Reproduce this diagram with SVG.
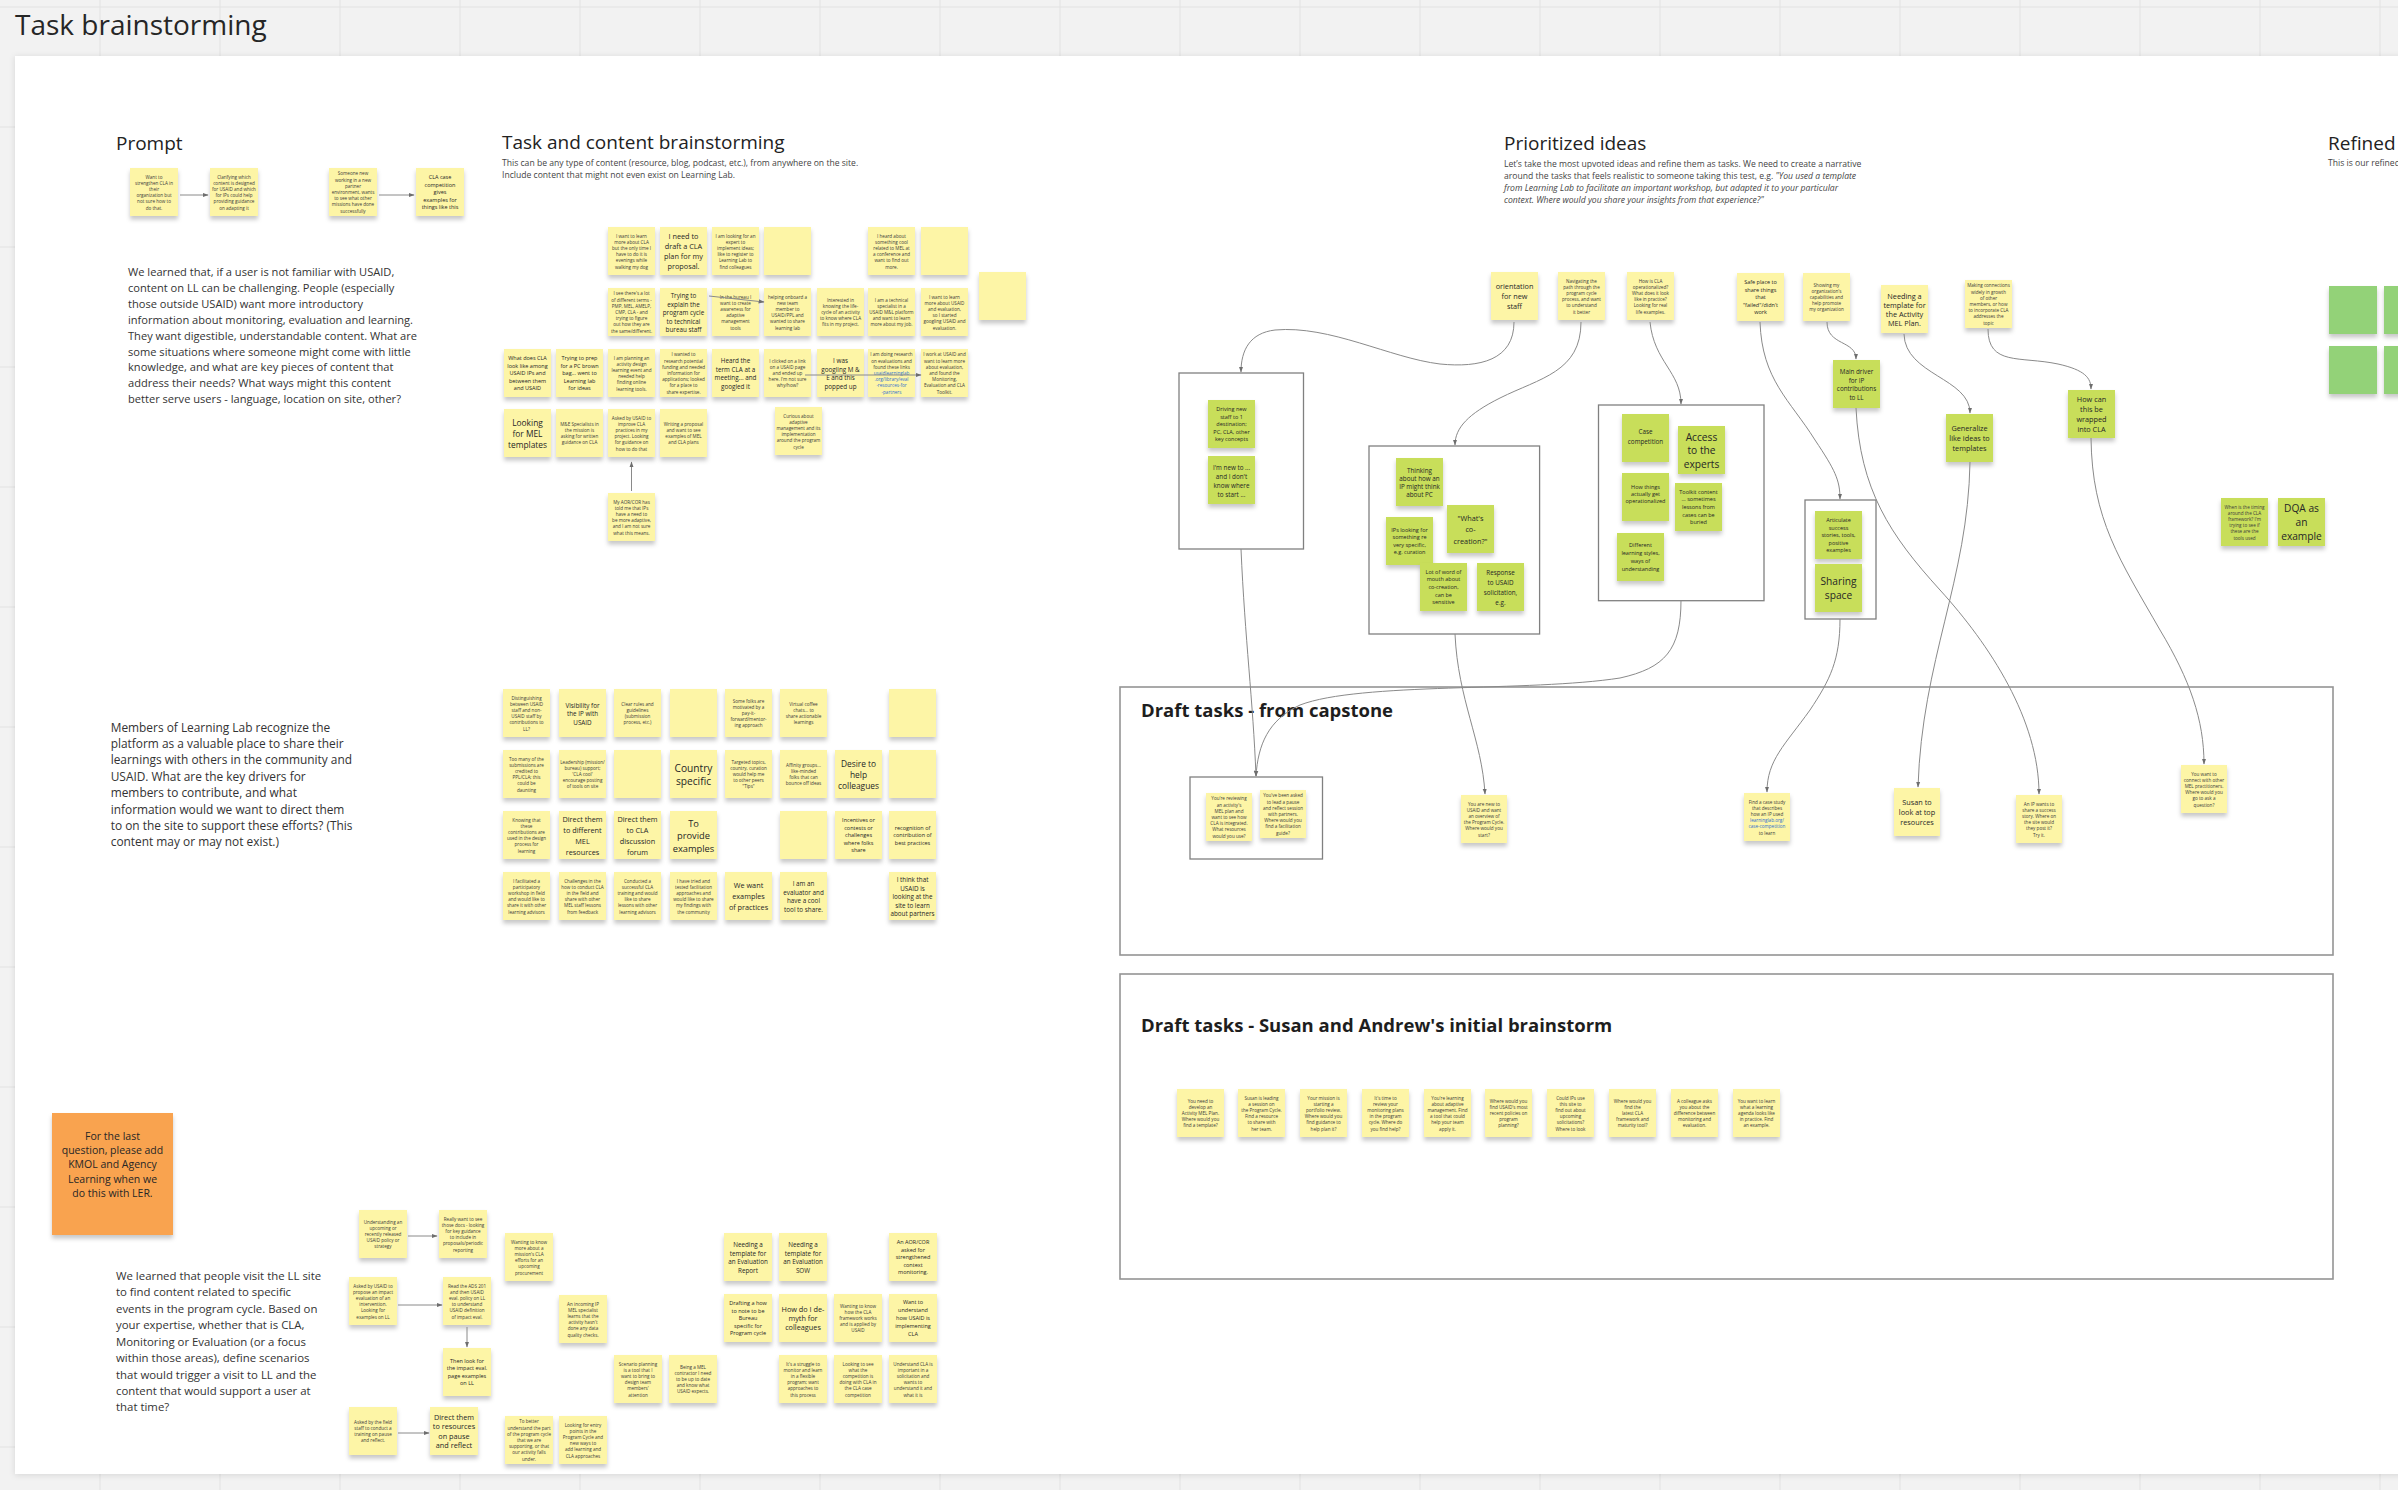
<svg xmlns="http://www.w3.org/2000/svg" width="2398" height="1490" viewBox="0 0 2398 1490">
<defs>
<filter id="sh" x="-20%" y="-20%" width="140%" height="160%"><feDropShadow dx="0" dy="3.5" stdDeviation="2.2" flood-color="#000" flood-opacity="0.22"/></filter>
<filter id="fsh" x="-5%" y="-5%" width="110%" height="110%"><feDropShadow dx="0" dy="1" stdDeviation="3" flood-color="#000" flood-opacity="0.12"/></filter>
<marker id="ah" viewBox="0 0 10 10" refX="9" refY="5" markerWidth="6" markerHeight="6" markerUnits="userSpaceOnUse" orient="auto"><path d="M0,1.5L10,5L0,8.5z" fill="#6e6e6e"/></marker>
</defs>
<style>
text{font-family:"Open Sans","Noto Sans","DejaVu Sans",sans-serif;fill:#262626}
.n text,.n tspan{text-anchor:middle;dominant-baseline:central}
.y{fill:#fdf5a6;filter:url(#sh)}
.g{fill:#c8de5a;filter:url(#sh)}
.gr{fill:#93d278;filter:url(#sh)}
.or{fill:#f9a350;filter:url(#sh)}
.f4{font-size:4.6px;fill:#3a3a3a}
.f5{font-size:5.5px}
.f6{font-size:6.3px}
.f7{font-size:7.3px}
.f8{font-size:8.4px}
.f9{font-size:9.3px}
.f10{font-size:10.2px}
.lk{fill:#2f6fd0}
.para{fill:#333}
.h{font-size:19px;fill:#222}
.sub{font-size:8.6px;fill:#444}
.box{fill:#fff;stroke:#808080;stroke-width:1.3}
.frm{fill:#fff;stroke:#949494;stroke-width:1.6}
.ft{font-size:18.5px;font-weight:bold;fill:#1e1e1e}
#connectors path{fill:none;stroke:#8a8a8a;stroke-width:1}
</style>
<rect x="0" y="0" width="2398" height="1490" fill="#f2f2f2"/>
<path d="M100 0V1490M220 0V1490M340 0V1490M460 0V1490M580 0V1490M700 0V1490M820 0V1490M940 0V1490M1060 0V1490M1180 0V1490M1300 0V1490M1420 0V1490M1540 0V1490M1660 0V1490M1780 0V1490M1900 0V1490M2020 0V1490M2140 0V1490M2260 0V1490M2380 0V1490M0 7H2398M0 127H2398M0 247H2398M0 367H2398M0 487H2398M0 607H2398M0 727H2398M0 847H2398M0 967H2398M0 1087H2398M0 1207H2398M0 1327H2398M0 1447H2398" stroke="#e2e2e2" stroke-width="1" fill="none"/>
<text x="15" y="35" font-size="28" fill="#555">Task brainstorming</text>
<rect x="15" y="56" width="2400" height="1418" fill="#fff" filter="url(#fsh)"/>

<!-- headings and paragraphs -->
<text class="h" x="116" y="150">Prompt</text>
<text class="para" font-size="11.1">
<tspan x="128" y="276.3">We learned that, if a user is not familiar with USAID,</tspan>
<tspan x="128" y="292.2">content on LL can be challenging. People (especially</tspan>
<tspan x="128" y="308">those outside USAID) want more introductory</tspan>
<tspan x="128" y="323.9">information about monitoring, evaluation and learning.</tspan>
<tspan x="128" y="339.7">They want digestible, understandable content. What are</tspan>
<tspan x="128" y="355.6">some situations where someone might come with little</tspan>
<tspan x="128" y="371.4">knowledge, and what are key pieces of content that</tspan>
<tspan x="128" y="387.3">address their needs? What ways might this content</tspan>
<tspan x="128" y="403.1">better serve users - language, location on site, other?</tspan>
</text>
<text class="para" font-size="11.9">
<tspan x="110.7" y="731.5">Members of Learning Lab recognize the</tspan>
<tspan x="110.7" y="747.9">platform as a valuable place to share their</tspan>
<tspan x="110.7" y="764.3">learnings with others in the community and</tspan>
<tspan x="110.7" y="780.7">USAID. What are the key drivers for</tspan>
<tspan x="110.7" y="797.1">members to contribute, and what</tspan>
<tspan x="110.7" y="813.5">information would we want to direct them</tspan>
<tspan x="110.7" y="829.9">to on the site to support these efforts? (This</tspan>
<tspan x="110.7" y="846.3">content may or may not exist.)</tspan>
</text>
<text class="para" font-size="11.4">
<tspan x="116" y="1279.8">We learned that people visit the LL site</tspan>
<tspan x="116" y="1296.3">to find content related to specific</tspan>
<tspan x="116" y="1312.7">events in the program cycle. Based on</tspan>
<tspan x="116" y="1329.2">your expertise, whether that is CLA,</tspan>
<tspan x="116" y="1345.6">Monitoring or Evaluation (or a focus</tspan>
<tspan x="116" y="1362">within those areas), define scenarios</tspan>
<tspan x="116" y="1378.5">that would trigger a visit to LL and the</tspan>
<tspan x="116" y="1395">content that would support a user at</tspan>
<tspan x="116" y="1411.4">that time?</tspan>
</text>
<text class="h" x="502" y="149">Task and content brainstorming</text>
<text class="sub" x="502" y="166">This can be any type of content (resource, blog, podcast, etc.), from anywhere on the site.</text>
<text class="sub" x="502" y="178">Include content that might not even exist on Learning Lab.</text>
<text class="h" x="1504" y="150">Prioritized ideas</text>
<text class="sub" x="1504" y="166.5">Let’s take the most upvoted ideas and refine them as tasks. We need to create a narrative</text>
<text class="sub" x="1504" y="178.7">around the tasks that feels realistic to someone taking this test, e.g. <tspan font-style="italic">"You used a template</tspan></text>
<text class="sub" x="1504" y="190.9" font-style="italic">from Learning Lab to facilitate an important workshop, but adapted it to your particular</text>
<text class="sub" x="1504" y="203.1" font-style="italic">context. Where would you share your insights from that experience?"</text>
<text class="h" x="2328" y="150">Refined</text>
<text class="sub" x="2328" y="166">This is our refined</text>

<!-- frames / boxes -->
<g id="frame-capstone"><rect class="frm" x="1120" y="687" width="1213" height="268"/><text class="ft" x="1141" y="716.5">Draft tasks - from capstone</text></g>
<g id="frame-susan"><rect class="frm" x="1120" y="974" width="1213" height="305"/><text class="ft" x="1141" y="1031.5">Draft tasks - Susan and Andrew's initial brainstorm</text></g>
<g id="box-1"><rect class="box" x="1179" y="373" width="124.5" height="176"/></g>
<g id="box-2"><rect class="box" x="1369" y="446" width="170.6" height="188"/></g>
<g id="box-3"><rect class="box" x="1598.5" y="405" width="165.5" height="195.7"/></g>
<g id="box-4"><rect class="box" x="1805" y="500" width="71" height="119"/></g>
<g id="box-5"><rect class="box" x="1190" y="777" width="132.5" height="82"/></g>

<!-- prompt notes -->
<g id="note-pr1" class="n"><rect class="y" x="130" y="168" width="48" height="48"/><text class="f4" x="154" y="192"><tspan x="154" dy="-15.5">Want to</tspan><tspan x="154" dy="6.2">strengthen CLA in</tspan><tspan x="154" dy="6.2">their</tspan><tspan x="154" dy="6.2">organization but</tspan><tspan x="154" dy="6.2">not sure how to</tspan><tspan x="154" dy="6.2">do that.</tspan></text></g>
<g id="note-pr2" class="n"><rect class="y" x="210" y="168" width="48" height="48"/><text class="f4" x="234" y="192"><tspan x="234" dy="-15.5">Clarifying which</tspan><tspan x="234" dy="6.2">content is designed</tspan><tspan x="234" dy="6.2">for USAID and which</tspan><tspan x="234" dy="6.2">for IPs could help</tspan><tspan x="234" dy="6.2">providing guidance</tspan><tspan x="234" dy="6.2">on adapting it</tspan></text></g>
<g id="note-pr3" class="n"><rect class="y" x="329" y="168" width="48" height="48"/><text class="f4" x="353" y="192"><tspan x="353" dy="-18.6">Someone new</tspan><tspan x="353" dy="6.2">working in a new</tspan><tspan x="353" dy="6.2">partner</tspan><tspan x="353" dy="6.2">environment, wants</tspan><tspan x="353" dy="6.2">to see what other</tspan><tspan x="353" dy="6.2">missions have done</tspan><tspan x="353" dy="6.2">successfully</tspan></text></g>
<g id="note-pr4" class="n"><rect class="y" x="416" y="168" width="48" height="48"/><text class="f5" x="440" y="192"><tspan x="440" dy="-15">CLA case</tspan><tspan x="440" dy="7.5">competition</tspan><tspan x="440" dy="7.5">gives</tspan><tspan x="440" dy="7.5">examples for</tspan><tspan x="440" dy="7.5">things like this</tspan></text></g>

<!-- task and content brainstorming notes -->
<g id="note-t1" class="n"><rect class="y" x="608" y="227" width="47" height="48"/><text class="f4" x="631.5" y="251"><tspan x="631.5" dy="-15.5">I want to learn</tspan><tspan x="631.5" dy="6.2">more about CLA</tspan><tspan x="631.5" dy="6.2">but the only time I</tspan><tspan x="631.5" dy="6.2">have to do it is</tspan><tspan x="631.5" dy="6.2">evenings while</tspan><tspan x="631.5" dy="6.2">walking my dog</tspan></text></g>
<g id="note-t2" class="n"><rect class="y" x="660" y="227" width="47" height="48"/><text class="f7" x="683.5" y="251"><tspan x="683.5" dy="-14.7">I need to</tspan><tspan x="683.5" dy="9.8">draft a CLA</tspan><tspan x="683.5" dy="9.8">plan for my</tspan><tspan x="683.5" dy="9.8">proposal.</tspan></text></g>
<g id="note-t3" class="n"><rect class="y" x="712" y="227" width="47" height="48"/><text class="f4" x="735.5" y="251"><tspan x="735.5" dy="-15.5">I am looking for an</tspan><tspan x="735.5" dy="6.2">expert to</tspan><tspan x="735.5" dy="6.2">implement ideas;</tspan><tspan x="735.5" dy="6.2">like to register to</tspan><tspan x="735.5" dy="6.2">Learning Lab to</tspan><tspan x="735.5" dy="6.2">find colleagues</tspan></text></g>
<g id="note-t4" class="n"><rect class="y" x="764" y="227" width="47" height="48"/></g>
<g id="note-t5" class="n"><rect class="y" x="868" y="227" width="47" height="48"/><text class="f4" x="891.5" y="251"><tspan x="891.5" dy="-15.5">I heard about</tspan><tspan x="891.5" dy="6.2">something cool</tspan><tspan x="891.5" dy="6.2">related to MEL at</tspan><tspan x="891.5" dy="6.2">a conference and</tspan><tspan x="891.5" dy="6.2">want to find out</tspan><tspan x="891.5" dy="6.2">more.</tspan></text></g>
<g id="note-t6" class="n"><rect class="y" x="921" y="227" width="47" height="48"/></g>
<g id="note-t7" class="n"><rect class="y" x="979" y="272" width="47" height="48"/></g>
<g id="note-t8" class="n"><rect class="y" x="608" y="288" width="47" height="48"/><text class="f4" x="631.5" y="312"><tspan x="631.5" dy="-18.6">I see there's a lot</tspan><tspan x="631.5" dy="6.2">of different terms -</tspan><tspan x="631.5" dy="6.2">PMP, MEL, AMELP,</tspan><tspan x="631.5" dy="6.2">CMP, CLA - and</tspan><tspan x="631.5" dy="6.2">trying to figure</tspan><tspan x="631.5" dy="6.2">out how they are</tspan><tspan x="631.5" dy="6.2">the same/different.</tspan></text></g>
<g id="note-t9" class="n"><rect class="y" x="660" y="288" width="47" height="48"/><text class="f6" x="683.5" y="312"><tspan x="683.5" dy="-17">Trying to</tspan><tspan x="683.5" dy="8.5">explain the</tspan><tspan x="683.5" dy="8.5">program cycle</tspan><tspan x="683.5" dy="8.5">to technical</tspan><tspan x="683.5" dy="8.5">bureau staff</tspan></text></g>
<g id="note-t10" class="n"><rect class="y" x="712" y="288" width="47" height="48"/><text class="f4" x="735.5" y="312"><tspan x="735.5" dy="-15.5">In the bureau I</tspan><tspan x="735.5" dy="6.2">want to create</tspan><tspan x="735.5" dy="6.2">awareness for</tspan><tspan x="735.5" dy="6.2">adaptive</tspan><tspan x="735.5" dy="6.2">management</tspan><tspan x="735.5" dy="6.2">tools</tspan></text></g>
<g id="note-t11" class="n"><rect class="y" x="764" y="288" width="47" height="48"/><text class="f4" x="787.5" y="312"><tspan x="787.5" dy="-15.5">helping onboard a</tspan><tspan x="787.5" dy="6.2">new team</tspan><tspan x="787.5" dy="6.2">member to</tspan><tspan x="787.5" dy="6.2">USAID/PPL and</tspan><tspan x="787.5" dy="6.2">wanted to share</tspan><tspan x="787.5" dy="6.2">learning lab</tspan></text></g>
<g id="note-t12" class="n"><rect class="y" x="817" y="288" width="47" height="48"/><text class="f4" x="840.5" y="312"><tspan x="840.5" dy="-12.4">Interested in</tspan><tspan x="840.5" dy="6.2">knowing the life-</tspan><tspan x="840.5" dy="6.2">cycle of an activity</tspan><tspan x="840.5" dy="6.2">to know where CLA</tspan><tspan x="840.5" dy="6.2">fits in my project.</tspan></text></g>
<g id="note-t13" class="n"><rect class="y" x="868" y="288" width="47" height="48"/><text class="f4" x="891.5" y="312"><tspan x="891.5" dy="-12.4">I am a technical</tspan><tspan x="891.5" dy="6.2">specialist in a</tspan><tspan x="891.5" dy="6.2">USAID M&amp;L platform</tspan><tspan x="891.5" dy="6.2">and want to learn</tspan><tspan x="891.5" dy="6.2">more about my job.</tspan></text></g>
<g id="note-t14" class="n"><rect class="y" x="921" y="288" width="47" height="48"/><text class="f4" x="944.5" y="312"><tspan x="944.5" dy="-15.5">I want to learn</tspan><tspan x="944.5" dy="6.2">more about USAID</tspan><tspan x="944.5" dy="6.2">and evaluation,</tspan><tspan x="944.5" dy="6.2">so I started</tspan><tspan x="944.5" dy="6.2">googling USAID and</tspan><tspan x="944.5" dy="6.2">evaluation.</tspan></text></g>
<g id="note-t15" class="n"><rect class="y" x="504" y="349" width="47" height="48"/><text class="f5" x="527.5" y="373"><tspan x="527.5" dy="-15">What does CLA</tspan><tspan x="527.5" dy="7.5">look like among</tspan><tspan x="527.5" dy="7.5">USAID IPs and</tspan><tspan x="527.5" dy="7.5">between them</tspan><tspan x="527.5" dy="7.5">and USAID</tspan></text></g>
<g id="note-t16" class="n"><rect class="y" x="556" y="349" width="47" height="48"/><text class="f5" x="579.5" y="373"><tspan x="579.5" dy="-15">Trying to prep</tspan><tspan x="579.5" dy="7.5">for a PC brown</tspan><tspan x="579.5" dy="7.5">bag... went to</tspan><tspan x="579.5" dy="7.5">Learning lab</tspan><tspan x="579.5" dy="7.5">for ideas</tspan></text></g>
<g id="note-t17" class="n"><rect class="y" x="608" y="349" width="47" height="48"/><text class="f4" x="631.5" y="373"><tspan x="631.5" dy="-15.5">I am planning an</tspan><tspan x="631.5" dy="6.2">activity design</tspan><tspan x="631.5" dy="6.2">learning event and</tspan><tspan x="631.5" dy="6.2">needed help</tspan><tspan x="631.5" dy="6.2">finding online</tspan><tspan x="631.5" dy="6.2">learning tools.</tspan></text></g>
<g id="note-t18" class="n"><rect class="y" x="660" y="349" width="47" height="48"/><text class="f4" x="683.5" y="373"><tspan x="683.5" dy="-18.6">I wanted to</tspan><tspan x="683.5" dy="6.2">research potential</tspan><tspan x="683.5" dy="6.2">funding and needed</tspan><tspan x="683.5" dy="6.2">information for</tspan><tspan x="683.5" dy="6.2">applications; looked</tspan><tspan x="683.5" dy="6.2">for a place to</tspan><tspan x="683.5" dy="6.2">share expertise.</tspan></text></g>
<g id="note-t19" class="n"><rect class="y" x="712" y="349" width="47" height="48"/><text class="f6" x="735.5" y="373"><tspan x="735.5" dy="-12.75">Heard the</tspan><tspan x="735.5" dy="8.5">term CLA at a</tspan><tspan x="735.5" dy="8.5">meeting... and</tspan><tspan x="735.5" dy="8.5">googled it</tspan></text></g>
<g id="note-t20" class="n"><rect class="y" x="764" y="349" width="47" height="48"/><text class="f4" x="787.5" y="373"><tspan x="787.5" dy="-12.4">I clicked on a link</tspan><tspan x="787.5" dy="6.2">on a USAID page</tspan><tspan x="787.5" dy="6.2">and ended up</tspan><tspan x="787.5" dy="6.2">here. I'm not sure</tspan><tspan x="787.5" dy="6.2">why/how?</tspan></text></g>
<g id="note-t21" class="n"><rect class="y" x="817" y="349" width="47" height="48"/><text class="f6" x="840.5" y="373"><tspan x="840.5" dy="-12.75">I was</tspan><tspan x="840.5" dy="8.5">googling M &amp;</tspan><tspan x="840.5" dy="8.5">E and this</tspan><tspan x="840.5" dy="8.5">popped up</tspan></text></g>
<g id="note-t22" class="n"><rect class="y" x="868" y="349" width="47" height="48"/><text class="f4" x="891.5" y="373"><tspan x="891.5" dy="-18.6">I am doing research</tspan><tspan x="891.5" dy="6.2">on evaluations and</tspan><tspan x="891.5" dy="6.2">found these links</tspan><tspan class="lk" x="891.5" dy="6.2">usaidlearninglab</tspan><tspan class="lk" x="891.5" dy="6.2">.org/library/eval</tspan><tspan class="lk" x="891.5" dy="6.2">-resources-for</tspan><tspan class="lk" x="891.5" dy="6.2">-partners</tspan></text></g>
<g id="note-t23" class="n"><rect class="y" x="921" y="349" width="47" height="48"/><text class="f4" x="944.5" y="373"><tspan x="944.5" dy="-18.6">I work at USAID and</tspan><tspan x="944.5" dy="6.2">want to learn more</tspan><tspan x="944.5" dy="6.2">about evaluation,</tspan><tspan x="944.5" dy="6.2">and found the</tspan><tspan x="944.5" dy="6.2">Monitoring,</tspan><tspan x="944.5" dy="6.2">Evaluation and CLA</tspan><tspan x="944.5" dy="6.2">Toolkit.</tspan></text></g>
<g id="note-t24" class="n"><rect class="y" x="504" y="409" width="47" height="48"/><text class="f8" x="527.5" y="433"><tspan x="527.5" dy="-11.2">Looking</tspan><tspan x="527.5" dy="11.2">for MEL</tspan><tspan x="527.5" dy="11.2">templates</tspan></text></g>
<g id="note-t25" class="n"><rect class="y" x="556" y="409" width="47" height="48"/><text class="f4" x="579.5" y="433"><tspan x="579.5" dy="-9.3">M&amp;E Specialists in</tspan><tspan x="579.5" dy="6.2">the mission is</tspan><tspan x="579.5" dy="6.2">asking for written</tspan><tspan x="579.5" dy="6.2">guidance on CLA</tspan></text></g>
<g id="note-t26" class="n"><rect class="y" x="608" y="409" width="47" height="48"/><text class="f4" x="631.5" y="433"><tspan x="631.5" dy="-15.5">Asked by USAID to</tspan><tspan x="631.5" dy="6.2">improve CLA</tspan><tspan x="631.5" dy="6.2">practices in my</tspan><tspan x="631.5" dy="6.2">project. Looking</tspan><tspan x="631.5" dy="6.2">for guidance on</tspan><tspan x="631.5" dy="6.2">how to do that</tspan></text></g>
<g id="note-t27" class="n"><rect class="y" x="660" y="409" width="47" height="48"/><text class="f4" x="683.5" y="433"><tspan x="683.5" dy="-9.3">Writing a proposal</tspan><tspan x="683.5" dy="6.2">and want to see</tspan><tspan x="683.5" dy="6.2">examples of MEL</tspan><tspan x="683.5" dy="6.2">and CLA plans</tspan></text></g>
<g id="note-t28" class="n"><rect class="y" x="775" y="407" width="47" height="48"/><text class="f4" x="798.5" y="431"><tspan x="798.5" dy="-15.5">Curious about</tspan><tspan x="798.5" dy="6.2">adaptive</tspan><tspan x="798.5" dy="6.2">management and its</tspan><tspan x="798.5" dy="6.2">implementation</tspan><tspan x="798.5" dy="6.2">around the program</tspan><tspan x="798.5" dy="6.2">cycle</tspan></text></g>
<g id="note-t29" class="n"><rect class="y" x="608" y="493" width="47" height="48"/><text class="f4" x="631.5" y="517"><tspan x="631.5" dy="-15.5">My AOR/COR has</tspan><tspan x="631.5" dy="6.2">told me that IPs</tspan><tspan x="631.5" dy="6.2">have a need to</tspan><tspan x="631.5" dy="6.2">be more adaptive,</tspan><tspan x="631.5" dy="6.2">and I am not sure</tspan><tspan x="631.5" dy="6.2">what this means.</tspan></text></g>

<!-- middle notes -->
<g id="note-m1" class="n"><rect class="y" x="503" y="689" width="47" height="48"/><text class="f4" x="526.5" y="713"><tspan x="526.5" dy="-15.5">Distinguishing</tspan><tspan x="526.5" dy="6.2">between USAID</tspan><tspan x="526.5" dy="6.2">staff and non-</tspan><tspan x="526.5" dy="6.2">USAID staff by</tspan><tspan x="526.5" dy="6.2">contributions to</tspan><tspan x="526.5" dy="6.2">LL?</tspan></text></g>
<g id="note-m2" class="n"><rect class="y" x="559" y="689" width="47" height="48"/><text class="f6" x="582.5" y="713"><tspan x="582.5" dy="-8.5">Visibility for</tspan><tspan x="582.5" dy="8.5">the IP with</tspan><tspan x="582.5" dy="8.5">USAID</tspan></text></g>
<g id="note-m3" class="n"><rect class="y" x="614" y="689" width="47" height="48"/><text class="f4" x="637.5" y="713"><tspan x="637.5" dy="-9.3">Clear rules and</tspan><tspan x="637.5" dy="6.2">guidelines</tspan><tspan x="637.5" dy="6.2">(submission</tspan><tspan x="637.5" dy="6.2">process, etc.)</tspan></text></g>
<g id="note-m4" class="n"><rect class="y" x="670" y="689" width="47" height="48"/></g>
<g id="note-m5" class="n"><rect class="y" x="725" y="689" width="47" height="48"/><text class="f4" x="748.5" y="713"><tspan x="748.5" dy="-12.4">Some folks are</tspan><tspan x="748.5" dy="6.2">motivated by a</tspan><tspan x="748.5" dy="6.2">pay-it-</tspan><tspan x="748.5" dy="6.2">forward/mentor-</tspan><tspan x="748.5" dy="6.2">ing approach</tspan></text></g>
<g id="note-m6" class="n"><rect class="y" x="780" y="689" width="47" height="48"/><text class="f4" x="803.5" y="713"><tspan x="803.5" dy="-9.3">Virtual coffee</tspan><tspan x="803.5" dy="6.2">chats... to</tspan><tspan x="803.5" dy="6.2">share actionable</tspan><tspan x="803.5" dy="6.2">learnings</tspan></text></g>
<g id="note-m8" class="n"><rect class="y" x="889" y="689" width="47" height="48"/></g>
<g id="note-m9" class="n"><rect class="y" x="503" y="750" width="47" height="48"/><text class="f4" x="526.5" y="774"><tspan x="526.5" dy="-15.5">Too many of the</tspan><tspan x="526.5" dy="6.2">submissions are</tspan><tspan x="526.5" dy="6.2">credited to</tspan><tspan x="526.5" dy="6.2">PPL/CLA; this</tspan><tspan x="526.5" dy="6.2">could be</tspan><tspan x="526.5" dy="6.2">daunting</tspan></text></g>
<g id="note-m10" class="n"><rect class="y" x="559" y="750" width="47" height="48"/><text class="f4" x="582.5" y="774"><tspan x="582.5" dy="-12.4">Leadership (mission/</tspan><tspan x="582.5" dy="6.2">bureau) support;</tspan><tspan x="582.5" dy="6.2">'CLA cool'</tspan><tspan x="582.5" dy="6.2">encourage posting</tspan><tspan x="582.5" dy="6.2">of tools on site</tspan></text></g>
<g id="note-m11" class="n"><rect class="y" x="614" y="750" width="47" height="48"/></g>
<g id="note-m12" class="n"><rect class="y" x="670" y="750" width="47" height="48"/><text class="f10" x="693.5" y="774"><tspan x="693.5" dy="-6.5">Country</tspan><tspan x="693.5" dy="13">specific</tspan></text></g>
<g id="note-m13" class="n"><rect class="y" x="725" y="750" width="47" height="48"/><text class="f4" x="748.5" y="774"><tspan x="748.5" dy="-12.4">Targeted topics,</tspan><tspan x="748.5" dy="6.2">country, curation</tspan><tspan x="748.5" dy="6.2">would help me</tspan><tspan x="748.5" dy="6.2">to other peers</tspan><tspan x="748.5" dy="6.2">"Tips"</tspan></text></g>
<g id="note-m14" class="n"><rect class="y" x="780" y="750" width="47" height="48"/><text class="f4" x="803.5" y="774"><tspan x="803.5" dy="-9.3">Affinity groups...</tspan><tspan x="803.5" dy="6.2">like-minded</tspan><tspan x="803.5" dy="6.2">folks that can</tspan><tspan x="803.5" dy="6.2">bounce off ideas</tspan></text></g>
<g id="note-m15" class="n"><rect class="y" x="835" y="750" width="47" height="48"/><text class="f8" x="858.5" y="774"><tspan x="858.5" dy="-11">Desire to</tspan><tspan x="858.5" dy="11">help</tspan><tspan x="858.5" dy="11">colleagues</tspan></text></g>
<g id="note-m16" class="n"><rect class="y" x="889" y="750" width="47" height="48"/></g>
<g id="note-m17" class="n"><rect class="y" x="503" y="811" width="47" height="48"/><text class="f4" x="526.5" y="835"><tspan x="526.5" dy="-15.5">Knowing that</tspan><tspan x="526.5" dy="6.2">these</tspan><tspan x="526.5" dy="6.2">contributions are</tspan><tspan x="526.5" dy="6.2">used in the design</tspan><tspan x="526.5" dy="6.2">process for</tspan><tspan x="526.5" dy="6.2">learning</tspan></text></g>
<g id="note-m18" class="n"><rect class="y" x="559" y="811" width="47" height="48"/><text class="f7" x="582.5" y="835"><tspan x="582.5" dy="-16.5">Direct them</tspan><tspan x="582.5" dy="11">to different</tspan><tspan x="582.5" dy="11">MEL</tspan><tspan x="582.5" dy="11">resources</tspan></text></g>
<g id="note-m19" class="n"><rect class="y" x="614" y="811" width="47" height="48"/><text class="f7" x="637.5" y="835"><tspan x="637.5" dy="-16.5">Direct them</tspan><tspan x="637.5" dy="11">to CLA</tspan><tspan x="637.5" dy="11">discussion</tspan><tspan x="637.5" dy="11">forum</tspan></text></g>
<g id="note-m20" class="n"><rect class="y" x="670" y="811" width="47" height="48"/><text class="f9" x="693.5" y="835"><tspan x="693.5" dy="-12.5">To</tspan><tspan x="693.5" dy="12.5">provide</tspan><tspan x="693.5" dy="12.5">examples</tspan></text></g>
<g id="note-m21" class="n"><rect class="y" x="780" y="811" width="47" height="48"/></g>
<g id="note-m22" class="n"><rect class="y" x="835" y="811" width="47" height="48"/><text class="f5" x="858.5" y="835"><tspan x="858.5" dy="-15">Incentives or</tspan><tspan x="858.5" dy="7.5">contests or</tspan><tspan x="858.5" dy="7.5">challenges</tspan><tspan x="858.5" dy="7.5">where folks</tspan><tspan x="858.5" dy="7.5">share</tspan></text></g>
<g id="note-m23" class="n"><rect class="y" x="889" y="811" width="47" height="48"/><text class="f5" x="912.5" y="835"><tspan x="912.5" dy="-7.5">recognition of</tspan><tspan x="912.5" dy="7.5">contribution of</tspan><tspan x="912.5" dy="7.5">best practices</tspan></text></g>
<g id="note-m24" class="n"><rect class="y" x="503" y="872" width="47" height="48"/><text class="f4" x="526.5" y="896"><tspan x="526.5" dy="-15.5">I facilitated a</tspan><tspan x="526.5" dy="6.2">participatory</tspan><tspan x="526.5" dy="6.2">workshop in field</tspan><tspan x="526.5" dy="6.2">and would like to</tspan><tspan x="526.5" dy="6.2">share it with other</tspan><tspan x="526.5" dy="6.2">learning advisors</tspan></text></g>
<g id="note-m25" class="n"><rect class="y" x="559" y="872" width="47" height="48"/><text class="f4" x="582.5" y="896"><tspan x="582.5" dy="-15.5">Challenges in the</tspan><tspan x="582.5" dy="6.2">how to conduct CLA</tspan><tspan x="582.5" dy="6.2">in the field and</tspan><tspan x="582.5" dy="6.2">share with other</tspan><tspan x="582.5" dy="6.2">MEL staff lessons</tspan><tspan x="582.5" dy="6.2">from feedback</tspan></text></g>
<g id="note-m26" class="n"><rect class="y" x="614" y="872" width="47" height="48"/><text class="f4" x="637.5" y="896"><tspan x="637.5" dy="-15.5">Conducted a</tspan><tspan x="637.5" dy="6.2">successful CLA</tspan><tspan x="637.5" dy="6.2">training and would</tspan><tspan x="637.5" dy="6.2">like to share</tspan><tspan x="637.5" dy="6.2">lessons with other</tspan><tspan x="637.5" dy="6.2">learning advisors</tspan></text></g>
<g id="note-m27" class="n"><rect class="y" x="670" y="872" width="47" height="48"/><text class="f4" x="693.5" y="896"><tspan x="693.5" dy="-15.5">I have tried and</tspan><tspan x="693.5" dy="6.2">tested facilitation</tspan><tspan x="693.5" dy="6.2">approaches and</tspan><tspan x="693.5" dy="6.2">would like to share</tspan><tspan x="693.5" dy="6.2">my findings with</tspan><tspan x="693.5" dy="6.2">the community</tspan></text></g>
<g id="note-m28" class="n"><rect class="y" x="725" y="872" width="47" height="48"/><text class="f7" x="748.5" y="896"><tspan x="748.5" dy="-11">We want</tspan><tspan x="748.5" dy="11">examples</tspan><tspan x="748.5" dy="11">of practices</tspan></text></g>
<g id="note-m29" class="n"><rect class="y" x="780" y="872" width="47" height="48"/><text class="f6" x="803.5" y="896"><tspan x="803.5" dy="-12.75">I am an</tspan><tspan x="803.5" dy="8.5">evaluator and</tspan><tspan x="803.5" dy="8.5">have a cool</tspan><tspan x="803.5" dy="8.5">tool to share.</tspan></text></g>
<g id="note-m31" class="n"><rect class="y" x="889" y="872" width="47" height="48"/><text class="f6" x="912.5" y="896"><tspan x="912.5" dy="-17">I think that</tspan><tspan x="912.5" dy="8.5">USAID is</tspan><tspan x="912.5" dy="8.5">looking at the</tspan><tspan x="912.5" dy="8.5">site to learn</tspan><tspan x="912.5" dy="8.5">about partners</tspan></text></g>

<!-- orange note -->
<g id="note-orange" class="n"><rect class="or" x="52" y="1113" width="121" height="122"/><text font-size="10.5" x="112.5" y="1164.3"><tspan x="112.5" dy="-28.6">For the last</tspan><tspan x="112.5" dy="14.3">question, please add</tspan><tspan x="112.5" dy="14.3">KMOL and Agency</tspan><tspan x="112.5" dy="14.3">Learning when we</tspan><tspan x="112.5" dy="14.3">do this with LER.</tspan></text></g>

<!-- bottom notes -->
<g id="note-b1" class="n"><rect class="y" x="359" y="1210" width="48" height="48"/><text class="f4" x="383" y="1234"><tspan x="383" dy="-12.4">Understanding an</tspan><tspan x="383" dy="6.2">upcoming or</tspan><tspan x="383" dy="6.2">recently released</tspan><tspan x="383" dy="6.2">USAID policy or</tspan><tspan x="383" dy="6.2">strategy</tspan></text></g>
<g id="note-b2" class="n"><rect class="y" x="439" y="1210" width="48" height="48"/><text class="f4" x="463" y="1234"><tspan x="463" dy="-15.5">Really want to see</tspan><tspan x="463" dy="6.2">those docs - looking</tspan><tspan x="463" dy="6.2">for key guidance</tspan><tspan x="463" dy="6.2">to include in</tspan><tspan x="463" dy="6.2">proposals/periodic</tspan><tspan x="463" dy="6.2">reporting</tspan></text></g>
<g id="note-b3" class="n"><rect class="y" x="505" y="1233" width="48" height="48"/><text class="f4" x="529" y="1257"><tspan x="529" dy="-15.5">Wanting to know</tspan><tspan x="529" dy="6.2">more about a</tspan><tspan x="529" dy="6.2">mission's CLA</tspan><tspan x="529" dy="6.2">efforts for an</tspan><tspan x="529" dy="6.2">upcoming</tspan><tspan x="529" dy="6.2">procurement</tspan></text></g>
<g id="note-b4" class="n"><rect class="y" x="349" y="1277" width="48" height="48"/><text class="f4" x="373" y="1301"><tspan x="373" dy="-15.5">Asked by USAID to</tspan><tspan x="373" dy="6.2">propose an impact</tspan><tspan x="373" dy="6.2">evaluation of an</tspan><tspan x="373" dy="6.2">intervention.</tspan><tspan x="373" dy="6.2">Looking for</tspan><tspan x="373" dy="6.2">examples on LL</tspan></text></g>
<g id="note-b5" class="n"><rect class="y" x="443" y="1277" width="48" height="48"/><text class="f4" x="467" y="1301"><tspan x="467" dy="-15.5">Read the ADS 201</tspan><tspan x="467" dy="6.2">and then USAID</tspan><tspan x="467" dy="6.2">eval. policy on LL</tspan><tspan x="467" dy="6.2">to understand</tspan><tspan x="467" dy="6.2">USAID definition</tspan><tspan x="467" dy="6.2">of impact eval.</tspan></text></g>
<g id="note-b6" class="n"><rect class="y" x="443" y="1348" width="48" height="48"/><text class="f5" x="467" y="1372"><tspan x="467" dy="-11.25">Then look for</tspan><tspan x="467" dy="7.5">the impact eval.</tspan><tspan x="467" dy="7.5">page examples</tspan><tspan x="467" dy="7.5">on LL</tspan></text></g>
<g id="note-b7" class="n"><rect class="y" x="349" y="1407" width="48" height="48"/><text class="f4" x="373" y="1431"><tspan x="373" dy="-9.3">Asked by the field</tspan><tspan x="373" dy="6.2">staff to conduct a</tspan><tspan x="373" dy="6.2">training on pause</tspan><tspan x="373" dy="6.2">and reflect.</tspan></text></g>
<g id="note-b8" class="n"><rect class="y" x="430" y="1407" width="48" height="48"/><text class="f7" x="454" y="1431"><tspan x="454" dy="-14.25">Direct them</tspan><tspan x="454" dy="9.5">to resources</tspan><tspan x="454" dy="9.5">on pause</tspan><tspan x="454" dy="9.5">and reflect</tspan></text></g>
<g id="note-b9" class="n"><rect class="y" x="505" y="1416" width="48" height="48"/><text class="f4" x="529" y="1440"><tspan x="529" dy="-18.6">To better</tspan><tspan x="529" dy="6.2">understand the part</tspan><tspan x="529" dy="6.2">of the program cycle</tspan><tspan x="529" dy="6.2">that we are</tspan><tspan x="529" dy="6.2">supporting, or that</tspan><tspan x="529" dy="6.2">our activity falls</tspan><tspan x="529" dy="6.2">under.</tspan></text></g>
<g id="note-b10" class="n"><rect class="y" x="559" y="1416" width="48" height="48"/><text class="f4" x="583" y="1440"><tspan x="583" dy="-15.5">Looking for entry</tspan><tspan x="583" dy="6.2">points in the</tspan><tspan x="583" dy="6.2">Program Cycle and</tspan><tspan x="583" dy="6.2">new ways to</tspan><tspan x="583" dy="6.2">add learning and</tspan><tspan x="583" dy="6.2">CLA approaches</tspan></text></g>
<g id="note-b11" class="n"><rect class="y" x="559" y="1295" width="48" height="48"/><text class="f4" x="583" y="1319"><tspan x="583" dy="-15.5">An incoming IP</tspan><tspan x="583" dy="6.2">MEL specialist</tspan><tspan x="583" dy="6.2">learns that the</tspan><tspan x="583" dy="6.2">activity hasn't</tspan><tspan x="583" dy="6.2">done any data</tspan><tspan x="583" dy="6.2">quality checks.</tspan></text></g>
<g id="note-b12" class="n"><rect class="y" x="614" y="1355" width="48" height="48"/><text class="f4" x="638" y="1379"><tspan x="638" dy="-15.5">Scenario planning</tspan><tspan x="638" dy="6.2">is a tool that I</tspan><tspan x="638" dy="6.2">want to bring to</tspan><tspan x="638" dy="6.2">design team</tspan><tspan x="638" dy="6.2">members'</tspan><tspan x="638" dy="6.2">attention</tspan></text></g>
<g id="note-b13" class="n"><rect class="y" x="669" y="1355" width="48" height="48"/><text class="f4" x="693" y="1379"><tspan x="693" dy="-12.4">Being a MEL</tspan><tspan x="693" dy="6.2">contractor I need</tspan><tspan x="693" dy="6.2">to be up to date</tspan><tspan x="693" dy="6.2">and know what</tspan><tspan x="693" dy="6.2">USAID expects.</tspan></text></g>
<g id="note-b14" class="n"><rect class="y" x="724" y="1233" width="48" height="48"/><text class="f6" x="748" y="1257"><tspan x="748" dy="-12.75">Needing a</tspan><tspan x="748" dy="8.5">template for</tspan><tspan x="748" dy="8.5">an Evaluation</tspan><tspan x="748" dy="8.5">Report</tspan></text></g>
<g id="note-b15" class="n"><rect class="y" x="779" y="1233" width="48" height="48"/><text class="f6" x="803" y="1257"><tspan x="803" dy="-12.75">Needing a</tspan><tspan x="803" dy="8.5">template for</tspan><tspan x="803" dy="8.5">an Evaluation</tspan><tspan x="803" dy="8.5">SOW</tspan></text></g>
<g id="note-b16" class="n"><rect class="y" x="889" y="1233" width="48" height="48"/><text class="f5" x="913" y="1257"><tspan x="913" dy="-15">An AOR/COR</tspan><tspan x="913" dy="7.5">asked for</tspan><tspan x="913" dy="7.5">strengthened</tspan><tspan x="913" dy="7.5">context</tspan><tspan x="913" dy="7.5">monitoring.</tspan></text></g>
<g id="note-b17" class="n"><rect class="y" x="724" y="1294" width="48" height="48"/><text class="f5" x="748" y="1318"><tspan x="748" dy="-15">Drafting a how</tspan><tspan x="748" dy="7.5">to note to be</tspan><tspan x="748" dy="7.5">Bureau</tspan><tspan x="748" dy="7.5">specific for</tspan><tspan x="748" dy="7.5">Program cycle</tspan></text></g>
<g id="note-b18" class="n"><rect class="y" x="779" y="1294" width="48" height="48"/><text class="f7" x="803" y="1318"><tspan x="803" dy="-8.8">How do I de-</tspan><tspan x="803" dy="8.8">myth for</tspan><tspan x="803" dy="8.8">colleagues</tspan></text></g>
<g id="note-b19" class="n"><rect class="y" x="834" y="1294" width="48" height="48"/><text class="f4" x="858" y="1318"><tspan x="858" dy="-12.4">Wanting to know</tspan><tspan x="858" dy="6.2">how the CLA</tspan><tspan x="858" dy="6.2">framework works</tspan><tspan x="858" dy="6.2">and is applied by</tspan><tspan x="858" dy="6.2">USAID</tspan></text></g>
<g id="note-b20" class="n"><rect class="y" x="889" y="1294" width="48" height="48"/><text class="f5" x="913" y="1318"><tspan x="913" dy="-15.6">Want to</tspan><tspan x="913" dy="7.8">understand</tspan><tspan x="913" dy="7.8">how USAID is</tspan><tspan x="913" dy="7.8">implementing</tspan><tspan x="913" dy="7.8">CLA</tspan></text></g>
<g id="note-b21" class="n"><rect class="y" x="779" y="1355" width="48" height="48"/><text class="f4" x="803" y="1379"><tspan x="803" dy="-15.5">It's a struggle to</tspan><tspan x="803" dy="6.2">monitor and learn</tspan><tspan x="803" dy="6.2">in a flexible</tspan><tspan x="803" dy="6.2">program; want</tspan><tspan x="803" dy="6.2">approaches to</tspan><tspan x="803" dy="6.2">this process</tspan></text></g>
<g id="note-b22" class="n"><rect class="y" x="834" y="1355" width="48" height="48"/><text class="f4" x="858" y="1379"><tspan x="858" dy="-15.5">Looking to see</tspan><tspan x="858" dy="6.2">what the</tspan><tspan x="858" dy="6.2">competition is</tspan><tspan x="858" dy="6.2">doing with CLA in</tspan><tspan x="858" dy="6.2">the CLA case</tspan><tspan x="858" dy="6.2">competition</tspan></text></g>
<g id="note-b23" class="n"><rect class="y" x="889" y="1355" width="48" height="48"/><text class="f4" x="913" y="1379"><tspan x="913" dy="-15.5">Understand CLA is</tspan><tspan x="913" dy="6.2">important in a</tspan><tspan x="913" dy="6.2">solicitation and</tspan><tspan x="913" dy="6.2">wants to</tspan><tspan x="913" dy="6.2">understand it and</tspan><tspan x="913" dy="6.2">what it is</tspan></text></g>

<!-- prioritized yellow notes -->
<g id="note-p1" class="n"><rect class="y" x="1491" y="272" width="47" height="48"/><text class="f7" x="1514.5" y="296"><tspan x="1514.5" dy="-10">orientation</tspan><tspan x="1514.5" dy="10">for new</tspan><tspan x="1514.5" dy="10">staff</tspan></text></g>
<g id="note-p2" class="n"><rect class="y" x="1558" y="272" width="47" height="48"/><text class="f4" x="1581.5" y="296"><tspan x="1581.5" dy="-15.5">Navigating the</tspan><tspan x="1581.5" dy="6.2">path through the</tspan><tspan x="1581.5" dy="6.2">program cycle</tspan><tspan x="1581.5" dy="6.2">process, and want</tspan><tspan x="1581.5" dy="6.2">to understand</tspan><tspan x="1581.5" dy="6.2">it better</tspan></text></g>
<g id="note-p3" class="n"><rect class="y" x="1627" y="272" width="47" height="48"/><text class="f4" x="1650.5" y="296"><tspan x="1650.5" dy="-15.5">How is CLA</tspan><tspan x="1650.5" dy="6.2">operationalized?</tspan><tspan x="1650.5" dy="6.2">What does it look</tspan><tspan x="1650.5" dy="6.2">like in practice?</tspan><tspan x="1650.5" dy="6.2">Looking for real</tspan><tspan x="1650.5" dy="6.2">life examples.</tspan></text></g>
<g id="note-p4" class="n"><rect class="y" x="1737" y="273" width="47" height="48"/><text class="f5" x="1760.5" y="297"><tspan x="1760.5" dy="-15">Safe place to</tspan><tspan x="1760.5" dy="7.5">share things</tspan><tspan x="1760.5" dy="7.5">that</tspan><tspan x="1760.5" dy="7.5">"failed"/didn't</tspan><tspan x="1760.5" dy="7.5">work</tspan></text></g>
<g id="note-p5" class="n"><rect class="y" x="1803" y="273" width="47" height="48"/><text class="f4" x="1826.5" y="297"><tspan x="1826.5" dy="-12.4">Showing my</tspan><tspan x="1826.5" dy="6.2">organization's</tspan><tspan x="1826.5" dy="6.2">capabilities and</tspan><tspan x="1826.5" dy="6.2">help promote</tspan><tspan x="1826.5" dy="6.2">my organization</tspan></text></g>
<g id="note-p6" class="n"><rect class="y" x="1881" y="285" width="47" height="48"/><text class="f7" x="1904.5" y="309"><tspan x="1904.5" dy="-13.5">Needing a</tspan><tspan x="1904.5" dy="9">template for</tspan><tspan x="1904.5" dy="9">the Activity</tspan><tspan x="1904.5" dy="9">MEL Plan.</tspan></text></g>
<g id="note-p7" class="n"><rect class="y" x="1965" y="280" width="47" height="48"/><text class="f4" x="1988.5" y="304"><tspan x="1988.5" dy="-18.6">Making connections</tspan><tspan x="1988.5" dy="6.2">widely in growth</tspan><tspan x="1988.5" dy="6.2">of other</tspan><tspan x="1988.5" dy="6.2">members, or how</tspan><tspan x="1988.5" dy="6.2">to incorporate CLA</tspan><tspan x="1988.5" dy="6.2">addresses the</tspan><tspan x="1988.5" dy="6.2">topic</tspan></text></g>

<!-- prioritized green notes -->
<g id="note-g1" class="n"><rect class="g" x="1208" y="400" width="47" height="48"/><text class="f5" x="1231.5" y="424"><tspan x="1231.5" dy="-15">Driving new</tspan><tspan x="1231.5" dy="7.5">staff to 1</tspan><tspan x="1231.5" dy="7.5">destination;</tspan><tspan x="1231.5" dy="7.5">PC, CLA, other</tspan><tspan x="1231.5" dy="7.5">key concepts</tspan></text></g>
<g id="note-g2" class="n"><rect class="g" x="1208" y="456" width="47" height="48"/><text class="f6" x="1231.5" y="480"><tspan x="1231.5" dy="-13.5">I'm new to ...</tspan><tspan x="1231.5" dy="9">and I don't</tspan><tspan x="1231.5" dy="9">know where</tspan><tspan x="1231.5" dy="9">to start ...</tspan></text></g>
<g id="note-g3" class="n"><rect class="g" x="1396" y="458" width="47" height="48"/><text class="f6" x="1419.5" y="482"><tspan x="1419.5" dy="-12.45">Thinking</tspan><tspan x="1419.5" dy="8.3">about how an</tspan><tspan x="1419.5" dy="8.3">IP might think</tspan><tspan x="1419.5" dy="8.3">about PC</tspan></text></g>
<g id="note-g4" class="n"><rect class="g" x="1447" y="505" width="47" height="48"/><text class="f7" x="1470.5" y="529"><tspan x="1470.5" dy="-11.5">"What's</tspan><tspan x="1470.5" dy="11.5">co-</tspan><tspan x="1470.5" dy="11.5">creation?"</tspan></text></g>
<g id="note-g5" class="n"><rect class="g" x="1386" y="517" width="47" height="48"/><text class="f5" x="1409.5" y="541"><tspan x="1409.5" dy="-11.4">IPs looking for</tspan><tspan x="1409.5" dy="7.6">something re</tspan><tspan x="1409.5" dy="7.6">very specific,</tspan><tspan x="1409.5" dy="7.6">e.g. curation</tspan></text></g>
<g id="note-g6" class="n"><rect class="g" x="1420" y="563" width="47" height="48"/><text class="f5" x="1443.5" y="587"><tspan x="1443.5" dy="-15.4">Lot of word of</tspan><tspan x="1443.5" dy="7.7">mouth about</tspan><tspan x="1443.5" dy="7.7">co-creation,</tspan><tspan x="1443.5" dy="7.7">can be</tspan><tspan x="1443.5" dy="7.7">sensitive</tspan></text></g>
<g id="note-g7" class="n"><rect class="g" x="1477" y="563" width="47" height="48"/><text class="f6" x="1500.5" y="587"><tspan x="1500.5" dy="-14.7">Response</tspan><tspan x="1500.5" dy="9.8">to USAID</tspan><tspan x="1500.5" dy="9.8">solicitation,</tspan><tspan x="1500.5" dy="9.8">e.g.</tspan></text></g>
<g id="note-g8" class="n"><rect class="g" x="1622" y="414" width="47" height="48"/><text class="f6" x="1645.5" y="436"><tspan x="1645.5" dy="-4.65">Case</tspan><tspan x="1645.5" dy="9.3">competition</tspan></text></g>
<g id="note-g9" class="n"><rect class="g" x="1678" y="426" width="47" height="48"/><text class="f10" x="1701.5" y="450"><tspan x="1701.5" dy="-13.5">Access</tspan><tspan x="1701.5" dy="13.5">to the</tspan><tspan x="1701.5" dy="13.5">experts</tspan></text></g>
<g id="note-g10" class="n"><rect class="g" x="1622" y="473" width="47" height="48"/><text class="f5" x="1645.5" y="494"><tspan x="1645.5" dy="-7">How things</tspan><tspan x="1645.5" dy="7">actually get</tspan><tspan x="1645.5" dy="7">operationalized</tspan></text></g>
<g id="note-g11" class="n"><rect class="g" x="1675" y="483" width="47" height="48"/><text class="f5" x="1698.5" y="507"><tspan x="1698.5" dy="-15.4">Toolkit content</tspan><tspan x="1698.5" dy="7.7">... sometimes</tspan><tspan x="1698.5" dy="7.7">lessons from</tspan><tspan x="1698.5" dy="7.7">cases can be</tspan><tspan x="1698.5" dy="7.7">buried</tspan></text></g>
<g id="note-g12" class="n"><rect class="g" x="1617" y="533" width="47" height="48"/><text class="f5" x="1640.5" y="557"><tspan x="1640.5" dy="-11.55">Different</tspan><tspan x="1640.5" dy="7.7">learning styles,</tspan><tspan x="1640.5" dy="7.7">ways of</tspan><tspan x="1640.5" dy="7.7">understanding</tspan></text></g>
<g id="note-g13" class="n"><rect class="g" x="1833" y="360" width="47" height="48"/><text class="f6" x="1856.5" y="384"><tspan x="1856.5" dy="-12.75">Main driver</tspan><tspan x="1856.5" dy="8.5">for IP</tspan><tspan x="1856.5" dy="8.5">contributions</tspan><tspan x="1856.5" dy="8.5">to LL</tspan></text></g>
<g id="note-g14" class="n"><rect class="g" x="1815" y="511" width="47" height="48"/><text class="f5" x="1838.5" y="535"><tspan x="1838.5" dy="-15">Articulate</tspan><tspan x="1838.5" dy="7.5">success</tspan><tspan x="1838.5" dy="7.5">stories, tools,</tspan><tspan x="1838.5" dy="7.5">positive</tspan><tspan x="1838.5" dy="7.5">examples</tspan></text></g>
<g id="note-g15" class="n"><rect class="g" x="1815" y="564" width="47" height="48"/><text class="f10" x="1838.5" y="588"><tspan x="1838.5" dy="-7">Sharing</tspan><tspan x="1838.5" dy="14">space</tspan></text></g>
<g id="note-g16" class="n"><rect class="g" x="1946" y="414" width="47" height="48"/><text class="f7" x="1969.5" y="438"><tspan x="1969.5" dy="-10">Generalize</tspan><tspan x="1969.5" dy="10">like ideas to</tspan><tspan x="1969.5" dy="10">templates</tspan></text></g>
<g id="note-g17" class="n"><rect class="g" x="2068" y="390" width="47" height="48"/><text class="f7" x="2091.5" y="414"><tspan x="2091.5" dy="-14.7">How can</tspan><tspan x="2091.5" dy="9.8">this be</tspan><tspan x="2091.5" dy="9.8">wrapped</tspan><tspan x="2091.5" dy="9.8">into CLA</tspan></text></g>
<g id="note-g18" class="n"><rect class="g" x="2221" y="498" width="47" height="48"/><text class="f4" x="2244.5" y="522"><tspan x="2244.5" dy="-15.5">When is the timing</tspan><tspan x="2244.5" dy="6.2">around the CLA</tspan><tspan x="2244.5" dy="6.2">framework? I'm</tspan><tspan x="2244.5" dy="6.2">trying to see if</tspan><tspan x="2244.5" dy="6.2">these are the</tspan><tspan x="2244.5" dy="6.2">tools used</tspan></text></g>
<g id="note-g19" class="n"><rect class="g" x="2278" y="498" width="47" height="48"/><text class="f10" x="2301.5" y="522"><tspan x="2301.5" dy="-13.7">DQA as</tspan><tspan x="2301.5" dy="13.7">an</tspan><tspan x="2301.5" dy="13.7">example</tspan></text></g>

<!-- refined notes -->
<g id="note-r1" class="n"><rect class="gr" x="2329" y="286" width="48" height="48"/></g>
<g id="note-r2" class="n"><rect class="gr" x="2384" y="286" width="48" height="48"/></g>
<g id="note-r3" class="n"><rect class="gr" x="2329" y="346" width="48" height="48"/></g>
<g id="note-r4" class="n"><rect class="gr" x="2384" y="346" width="48" height="48"/></g>

<!-- capstone notes -->
<g id="note-c1" class="n"><rect class="y" x="1206" y="793" width="46" height="48"/><text class="f4" x="1229" y="817"><tspan x="1229" dy="-18.6">You're reviewing</tspan><tspan x="1229" dy="6.2">an activity's</tspan><tspan x="1229" dy="6.2">MEL plan and</tspan><tspan x="1229" dy="6.2">want to see how</tspan><tspan x="1229" dy="6.2">CLA is integrated.</tspan><tspan x="1229" dy="6.2">What resources</tspan><tspan x="1229" dy="6.2">would you use?</tspan></text></g>
<g id="note-c2" class="n"><rect class="y" x="1260" y="790" width="46" height="48"/><text class="f4" x="1283" y="814"><tspan x="1283" dy="-18.6">You've been asked</tspan><tspan x="1283" dy="6.2">to lead a pause</tspan><tspan x="1283" dy="6.2">and reflect session</tspan><tspan x="1283" dy="6.2">with partners.</tspan><tspan x="1283" dy="6.2">Where would you</tspan><tspan x="1283" dy="6.2">find a facilitation</tspan><tspan x="1283" dy="6.2">guide?</tspan></text></g>
<g id="note-c3" class="n"><rect class="y" x="1461" y="795" width="46" height="48"/><text class="f4" x="1484" y="819"><tspan x="1484" dy="-15.5">You are new to</tspan><tspan x="1484" dy="6.2">USAID and want</tspan><tspan x="1484" dy="6.2">an overview of</tspan><tspan x="1484" dy="6.2">the Program Cycle.</tspan><tspan x="1484" dy="6.2">Where would you</tspan><tspan x="1484" dy="6.2">start?</tspan></text></g>
<g id="note-c4" class="n"><rect class="y" x="1744" y="793" width="46" height="48"/><text class="f4" x="1767" y="817"><tspan x="1767" dy="-15.5">Find a case study</tspan><tspan x="1767" dy="6.2">that describes</tspan><tspan x="1767" dy="6.2">how an IP used</tspan><tspan class="lk" x="1767" dy="6.2">learninglab.org/</tspan><tspan class="lk" x="1767" dy="6.2">case-competition</tspan><tspan x="1767" dy="6.2">to learn</tspan></text></g>
<g id="note-c5" class="n"><rect class="y" x="1894" y="788" width="46" height="48"/><text class="f7" x="1917" y="812"><tspan x="1917" dy="-10.3">Susan to</tspan><tspan x="1917" dy="10.3">look at top</tspan><tspan x="1917" dy="10.3">resources</tspan></text></g>
<g id="note-c6" class="n"><rect class="y" x="2016" y="795" width="46" height="48"/><text class="f4" x="2039" y="819"><tspan x="2039" dy="-15.5">An IP wants to</tspan><tspan x="2039" dy="6.2">share a success</tspan><tspan x="2039" dy="6.2">story. Where on</tspan><tspan x="2039" dy="6.2">the site would</tspan><tspan x="2039" dy="6.2">they post it?</tspan><tspan x="2039" dy="6.2">Try it.</tspan></text></g>
<g id="note-c7" class="n"><rect class="y" x="2181" y="765" width="46" height="48"/><text class="f4" x="2204" y="789"><tspan x="2204" dy="-15.5">You want to</tspan><tspan x="2204" dy="6.2">connect with other</tspan><tspan x="2204" dy="6.2">MEL practitioners.</tspan><tspan x="2204" dy="6.2">Where would you</tspan><tspan x="2204" dy="6.2">go to ask a</tspan><tspan x="2204" dy="6.2">question?</tspan></text></g>

<!-- susan notes -->
<g id="note-s1" class="n"><rect class="y" x="1177" y="1089" width="47" height="48"/><text class="f4" x="1200.5" y="1113"><tspan x="1200.5" dy="-12.4">You need to</tspan><tspan x="1200.5" dy="6.2">develop an</tspan><tspan x="1200.5" dy="6.2">Activity MEL Plan.</tspan><tspan x="1200.5" dy="6.2">Where would you</tspan><tspan x="1200.5" dy="6.2">find a template?</tspan></text></g>
<g id="note-s2" class="n"><rect class="y" x="1238" y="1089" width="47" height="48"/><text class="f4" x="1261.5" y="1113"><tspan x="1261.5" dy="-15.5">Susan is leading</tspan><tspan x="1261.5" dy="6.2">a session on</tspan><tspan x="1261.5" dy="6.2">the Program Cycle.</tspan><tspan x="1261.5" dy="6.2">Find a resource</tspan><tspan x="1261.5" dy="6.2">to share with</tspan><tspan x="1261.5" dy="6.2">her team.</tspan></text></g>
<g id="note-s3" class="n"><rect class="y" x="1300" y="1089" width="47" height="48"/><text class="f4" x="1323.5" y="1113"><tspan x="1323.5" dy="-15.5">Your mission is</tspan><tspan x="1323.5" dy="6.2">starting a</tspan><tspan x="1323.5" dy="6.2">portfolio review.</tspan><tspan x="1323.5" dy="6.2">Where would you</tspan><tspan x="1323.5" dy="6.2">find guidance to</tspan><tspan x="1323.5" dy="6.2">help plan it?</tspan></text></g>
<g id="note-s4" class="n"><rect class="y" x="1362" y="1089" width="47" height="48"/><text class="f4" x="1385.5" y="1113"><tspan x="1385.5" dy="-15.5">It's time to</tspan><tspan x="1385.5" dy="6.2">review your</tspan><tspan x="1385.5" dy="6.2">monitoring plans</tspan><tspan x="1385.5" dy="6.2">in the program</tspan><tspan x="1385.5" dy="6.2">cycle. Where do</tspan><tspan x="1385.5" dy="6.2">you find help?</tspan></text></g>
<g id="note-s5" class="n"><rect class="y" x="1424" y="1089" width="47" height="48"/><text class="f4" x="1447.5" y="1113"><tspan x="1447.5" dy="-15.5">You're learning</tspan><tspan x="1447.5" dy="6.2">about adaptive</tspan><tspan x="1447.5" dy="6.2">management. Find</tspan><tspan x="1447.5" dy="6.2">a tool that could</tspan><tspan x="1447.5" dy="6.2">help your team</tspan><tspan x="1447.5" dy="6.2">apply it.</tspan></text></g>
<g id="note-s6" class="n"><rect class="y" x="1485" y="1089" width="47" height="48"/><text class="f4" x="1508.5" y="1113"><tspan x="1508.5" dy="-12.4">Where would you</tspan><tspan x="1508.5" dy="6.2">find USAID's most</tspan><tspan x="1508.5" dy="6.2">recent policies on</tspan><tspan x="1508.5" dy="6.2">program</tspan><tspan x="1508.5" dy="6.2">planning?</tspan></text></g>
<g id="note-s7" class="n"><rect class="y" x="1547" y="1089" width="47" height="48"/><text class="f4" x="1570.5" y="1113"><tspan x="1570.5" dy="-15.5">Could IPs use</tspan><tspan x="1570.5" dy="6.2">this site to</tspan><tspan x="1570.5" dy="6.2">find out about</tspan><tspan x="1570.5" dy="6.2">upcoming</tspan><tspan x="1570.5" dy="6.2">solicitations?</tspan><tspan x="1570.5" dy="6.2">Where to look</tspan></text></g>
<g id="note-s8" class="n"><rect class="y" x="1609" y="1089" width="47" height="48"/><text class="f4" x="1632.5" y="1113"><tspan x="1632.5" dy="-12.4">Where would you</tspan><tspan x="1632.5" dy="6.2">find the</tspan><tspan x="1632.5" dy="6.2">latest CLA</tspan><tspan x="1632.5" dy="6.2">framework and</tspan><tspan x="1632.5" dy="6.2">maturity tool?</tspan></text></g>
<g id="note-s9" class="n"><rect class="y" x="1671" y="1089" width="47" height="48"/><text class="f4" x="1694.5" y="1113"><tspan x="1694.5" dy="-12.4">A colleague asks</tspan><tspan x="1694.5" dy="6.2">you about the</tspan><tspan x="1694.5" dy="6.2">difference between</tspan><tspan x="1694.5" dy="6.2">monitoring and</tspan><tspan x="1694.5" dy="6.2">evaluation.</tspan></text></g>
<g id="note-s10" class="n"><rect class="y" x="1733" y="1089" width="47" height="48"/><text class="f4" x="1756.5" y="1113"><tspan x="1756.5" dy="-12.4">You want to learn</tspan><tspan x="1756.5" dy="6.2">what a learning</tspan><tspan x="1756.5" dy="6.2">agenda looks like</tspan><tspan x="1756.5" dy="6.2">in practice. Find</tspan><tspan x="1756.5" dy="6.2">an example.</tspan></text></g>

<!-- connectors -->
<g id="connectors">
<path d="M180,195H208" marker-end="url(#ah)"/>
<path d="M379,195H414" marker-end="url(#ah)"/>
<path d="M631.5,491V462" marker-end="url(#ah)"/>
<path d="M709,296L764,302" marker-end="url(#ah)"/>
<path d="M805,375H921" marker-end="url(#ah)"/>
<path d="M408,1236H437" marker-end="url(#ah)"/>
<path d="M398,1305H442" marker-end="url(#ah)"/>
<path d="M467,1327V1347" marker-end="url(#ah)"/>
<path d="M398,1433H429" marker-end="url(#ah)"/>
<path d="M1514,322C1514,360 1480,368 1440,364C1390,358 1330,325 1275,330C1250,333 1241,350 1241,372" marker-end="url(#ah)"/>
<path d="M1581,322C1581,372 1540,378 1500,398C1468,414 1455,428 1455,445" marker-end="url(#ah)"/>
<path d="M1650,322C1654,362 1681,372 1681,404" marker-end="url(#ah)"/>
<path d="M1241,549C1245,640 1253,700 1256,776" marker-end="url(#ah)"/>
<path d="M1681,600C1681,650 1665,668 1620,678C1530,692 1360,682 1300,705C1268,720 1258,745 1256,776" marker-end="url(#ah)"/>
<path d="M1455,634C1458,700 1482,740 1485,794" marker-end="url(#ah)"/>
<path d="M1760,322C1762,380 1790,400 1815,440C1835,470 1840,480 1840,499" marker-end="url(#ah)"/>
<path d="M1840,619C1840,660 1830,680 1810,710C1785,745 1767,760 1767,792" marker-end="url(#ah)"/>
<path d="M1827,322C1827,346 1856,340 1856,359" marker-end="url(#ah)"/>
<path d="M1856,408C1860,490 1890,535 1940,590C1990,645 2039,720 2039,794" marker-end="url(#ah)"/>
<path d="M1970,462C1968,580 1922,660 1918,787" marker-end="url(#ah)"/>
<path d="M1904,334C1905,375 1970,378 1970,413" marker-end="url(#ah)"/>
<path d="M1988,329C1988,366 2020,356 2058,364C2085,370 2091,378 2091,389" marker-end="url(#ah)"/>
<path d="M2091,438C2092,520 2120,560 2160,630C2190,680 2204,720 2204,764" marker-end="url(#ah)"/>
</g>
</svg>
